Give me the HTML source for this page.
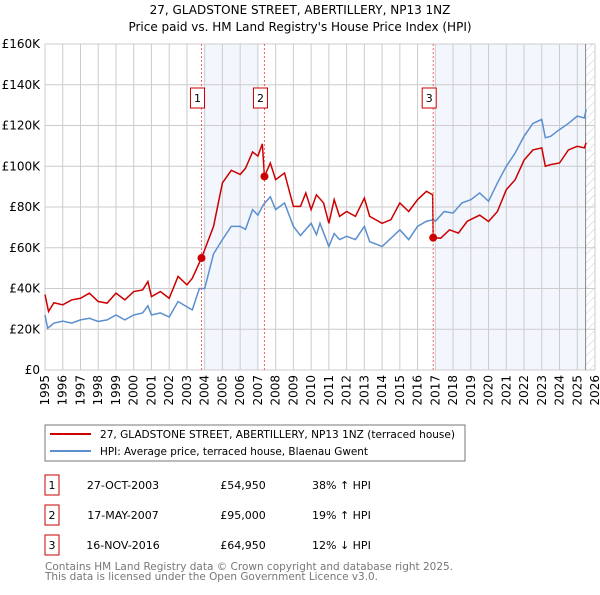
<!DOCTYPE html>
<html><head><meta charset="utf-8"><style>
body{margin:0;background:#fff;}
svg text{font-family:"DejaVu Sans","Liberation Sans",sans-serif;}
</style></head><body>
<svg id="chart" width="600" height="590" xmlns="http://www.w3.org/2000/svg">
<defs><pattern id="hatch" width="6" height="6" patternUnits="userSpaceOnUse" patternTransform="rotate(45)"><line x1="0" y1="0" x2="0" y2="6" stroke="#ccc" stroke-width="1"/></pattern></defs>
<text x="300" y="14" text-anchor="middle" font-size="12">27, GLADSTONE STREET, ABERTILLERY, NP13 1NZ</text>
<text x="300" y="31" text-anchor="middle" font-size="12">Price paid vs. HM Land Registry's House Price Index (HPI)</text>
<g id="bg"></g><g id="grid"></g><g id="marks"></g><g id="axes"></g>
<rect x="45" y="425" width="420" height="36" fill="#fff" stroke="#777"/>
<line x1="50" y1="434" x2="91" y2="434" stroke="#cc0000" stroke-width="2"/>
<text x="100" y="438" font-size="11" textLength="355" lengthAdjust="spacingAndGlyphs">27, GLADSTONE STREET, ABERTILLERY, NP13 1NZ (terraced house)</text>
<line x1="50" y1="451" x2="91" y2="451" stroke="#5b8fd0" stroke-width="2"/>
<text x="100" y="455" font-size="11" textLength="268" lengthAdjust="spacingAndGlyphs">HPI: Average price, terraced house, Blaenau Gwent</text>
<g id="table" font-size="11"></g>
<text x="45" y="570" font-size="11" fill="#777" textLength="408" lengthAdjust="spacingAndGlyphs">Contains HM Land Registry data © Crown copyright and database right 2025.</text>
<text x="45" y="580" font-size="11" fill="#777" textLength="333" lengthAdjust="spacingAndGlyphs">This data is licensed under the Open Government Licence v3.0.</text>
</svg>
<script>
const yearTicks=[1995,1996,1997,1998,1999,2000,2001,2002,2003,2004,2005,2006,2007,2008,2009,2010,2011,2012,2013,2014,2015,2016,2017,2018,2019,2020,2021,2022,2023,2024,2025,2026];
const valueTicks=[0,20000,40000,60000,80000,100000,120000,140000,160000];
const valueLabels=["£0","£20K","£40K","£60K","£80K","£100K","£120K","£140K","£160K"];
const hpiYears=[1995,1995.15,1995.5,1996,1996.5,1997,1997.5,1998,1998.5,1999,1999.5,2000,2000.5,2000.8,2001,2001.5,2002,2002.5,2003,2003.3,2003.7,2004,2004.5,2005,2005.5,2006,2006.3,2006.7,2007,2007.3,2007.7,2008,2008.5,2009,2009.4,2010,2010.3,2010.5,2011,2011.3,2011.6,2012,2012.5,2013,2013.3,2014,2014.5,2015,2015.5,2016,2016.5,2016.9,2017,2017.5,2018,2018.5,2019,2019.5,2020,2020.5,2021,2021.5,2022,2022.5,2023,2023.2,2023.5,2024,2024.5,2025,2025.4,2025.5];
const hpiValues=[27000,20500,23000,24000,23000,24600,25400,23800,24600,27000,24600,27000,28000,31500,27000,28000,26000,33600,31000,29500,40000,40000,57000,64000,70500,70500,69000,78700,76000,81000,85000,78700,82000,70500,66000,72000,66400,72000,60600,67000,64000,65600,64000,70500,63000,60600,64700,68800,64000,70500,73000,73800,73000,77800,77000,82000,83600,86900,82800,91800,100000,106500,114700,121000,123000,114000,114700,118000,121000,124600,123700,127800];
const priceYears=[1995,1995.2,1995.5,1996,1996.5,1997,1997.5,1998,1998.5,1999,1999.5,2000,2000.5,2000.8,2001,2001.5,2002,2002.5,2003,2003.3,2003.82,2004,2004.5,2005,2005.5,2006,2006.3,2006.7,2007,2007.25,2007.37,2007.7,2008,2008.5,2009,2009.4,2009.7,2010,2010.3,2010.7,2011,2011.3,2011.6,2012,2012.5,2013,2013.3,2014,2014.5,2015,2015.5,2016,2016.5,2016.85,2016.88,2017.3,2017.8,2018.3,2018.8,2019.5,2020,2020.5,2021,2021.5,2022,2022.5,2023,2023.2,2023.5,2024,2024.5,2025,2025.4,2025.5];
const priceValues=[37000,28700,33000,32000,34400,35200,37700,33600,32800,37700,34400,38500,39300,43400,36000,38500,35200,45900,41800,45000,54950,59000,70500,91800,98000,96000,99000,107000,105000,111000,95000,101600,93400,96700,80300,80300,86900,78700,86000,82000,72000,83600,75400,77800,75400,84400,75400,72000,73800,82000,77800,83600,87700,86000,64950,64700,68800,67200,73000,76000,72900,77800,88500,93400,103000,108000,109000,100000,100800,101600,108000,109800,109000,111500];
const saleDates=[2003.82,2007.37,2016.88];
const salePrices=[54950,95000,64950];
const saleLabels=["1","2","3"];
const saleDateText=["27-OCT-2003","17-MAY-2007","16-NOV-2016"];
const salePriceText=["£54,950","£95,000","£64,950"];
const saleHpiText=["38% ↑ HPI","19% ↑ HPI","12% ↓ HPI"];

const NS="http://www.w3.org/2000/svg";
const L=45,R=595,T=44,B=370;
const x=y=>L+(y-1995)*(R-L)/31;
const yv=v=>B-v*(B-T)/160000;
function mk(p,tag,a){const e=document.createElementNS(NS,tag);for(const k in a)e.setAttribute(k,a[k]);p.appendChild(e);return e;}
const bg=document.getElementById('bg'),grid=document.getElementById('grid'),marks=document.getElementById('marks'),axes=document.getElementById('axes'),tbl=document.getElementById('table');
let r;
r=mk(bg,'rect',{x:x(2004),y:T,width:x(2007)-x(2004),height:B-T,fill:'#f3f6fd'});

r=mk(bg,'rect',{x:x(2017),y:T,width:x(2025.47)-x(2017),height:B-T,fill:'#f3f6fd'});

r=mk(bg,'rect',{x:x(2025.47),y:T,width:R-x(2025.47),height:B-T,fill:'url(#hatch)'});

yearTicks.forEach(t=>{const l=mk(grid,'line',{x1:x(t),x2:x(t),y1:T,y2:B,stroke:'#ccc','stroke-width':1});

const tx=mk(axes,'text',{x:0,y:0,'font-size':12,'text-anchor':'end',transform:`translate(${x(t)+4},${B+5}) rotate(-90)`});tx.textContent=t;
});
valueTicks.forEach((v,i)=>{const l=mk(grid,'line',{x1:L,x2:R,y1:yv(v),y2:yv(v),stroke:'#ccc','stroke-width':1});

const tx=mk(axes,'text',{x:L-5,y:yv(v)+4,'font-size':12,'text-anchor':'end'});tx.textContent=valueLabels[i];
});
r=mk(grid,'line',{x1:x(2025.47),x2:x(2025.47),y1:T,y2:B,stroke:'#888'});

let p=mk(marks,'polyline',{points:hpiYears.map((t,i)=>x(t)+','+yv(hpiValues[i])).join(' '),fill:'none',stroke:'#5b8fd0','stroke-width':1.5});

p=mk(marks,'polyline',{points:priceYears.map((t,i)=>x(t)+','+yv(priceValues[i])).join(' '),fill:'none',stroke:'#cc0000','stroke-width':1.5});

saleDates.forEach((d,i)=>{
const l=mk(marks,'line',{x1:x(d),x2:x(d),y1:T,y2:B,stroke:'#e66','stroke-width':1,'stroke-dasharray':'2,2'});

const c=mk(marks,'circle',{cx:x(d),cy:yv(salePrices[i]),r:4,fill:'#cc0000'});

const b=mk(marks,'rect',{x:x(d)-11,y:88,width:14,height:20,fill:'#fff',stroke:'#cc0000'});

const t=mk(marks,'text',{x:x(d)-4,y:102,'font-size':11,'text-anchor':'middle'});t.textContent=saleLabels[i];

const cy=485+i*30;
const tb=mk(tbl,'rect',{x:45,y:cy-10,width:14,height:20,fill:'#fff',stroke:'#cc0000'});

const tn=mk(tbl,'text',{x:52,y:cy+4,'text-anchor':'middle'});tn.textContent=saleLabels[i];

const td=mk(tbl,'text',{x:123,y:cy+4,'text-anchor':'middle'});td.textContent=saleDateText[i];

const tp=mk(tbl,'text',{x:243,y:cy+4,'text-anchor':'middle'});tp.textContent=salePriceText[i];

const th=mk(tbl,'text',{x:312,y:cy+4});th.textContent=saleHpiText[i];

});
</script>
</body></html>
